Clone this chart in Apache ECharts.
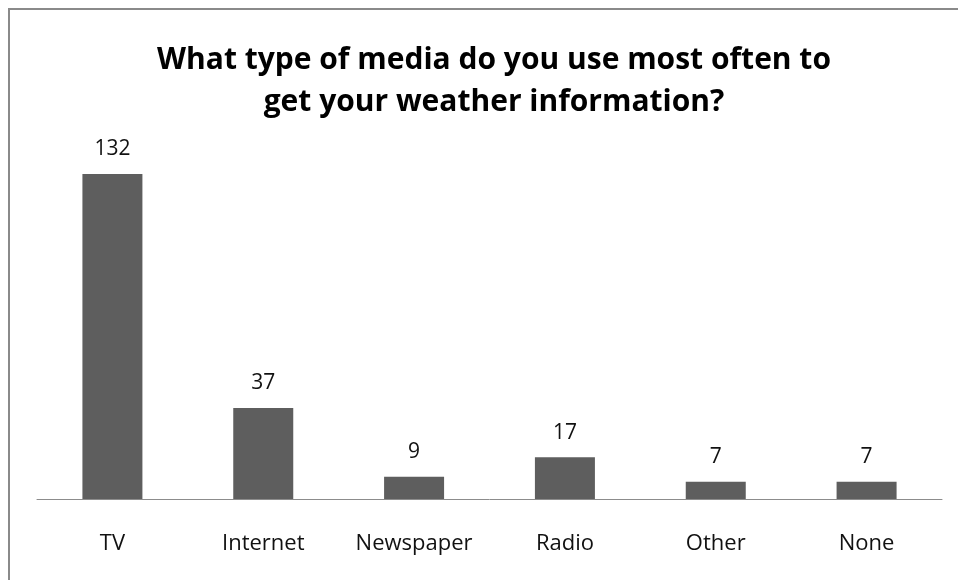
<!DOCTYPE html>
<html>
<head>
<meta charset="utf-8">
<script src="https://cdn.jsdelivr.net/npm/echarts@6/dist/echarts.min.js"></script>
<style>
  html, body { margin: 0; padding: 0; background: #fff; }
  #chart { width: 958px; height: 580px; }
</style>
</head>
<body>
<div id="chart"></div>
<script>
// Survey answers: preferred media for weather information
const categories = ['TV', 'Internet', 'Newspaper', 'Radio', 'Other', 'None'];
const responses = [132, 37, 9, 17, 7, 7];
const titleLines = ['What type of media do you use most often to', 'get your weather information?'];

const FONT = '"Open Sans", "Liberation Sans", sans-serif';

const chart = echarts.init(document.getElementById('chart'));
chart.setOption({
  animation: false,
  backgroundColor: '#ffffff',
  title: {
    text: titleLines.join('\n'),
    left: 489,
    top: 34,
    textAlign: 'center',
    textStyle: {
      fontFamily: FONT,
      fontWeight: 'bold',
      fontSize: 30,
      lineHeight: 42,
      color: '#000000'
    }
  },
  graphic: [{
    type: 'rect',
    shape: { x: 9, y: 9, width: 1100, height: 800 },
    style: { fill: 'none', stroke: '#8a8a8a', lineWidth: 2 },
    silent: true
  }],
  grid: { left: 37, right: 16, top: 154.3, bottom: 81, containLabel: false },
  xAxis: {
    type: 'category',
    data: categories,
    axisLine: { show: true, lineStyle: { color: '#8c8c8c', width: 1 } },
    axisTick: { show: false },
    axisLabel: {
      interval: 0,
      fontFamily: FONT,
      fontSize: 22,
      color: '#111111',
      margin: 34
    }
  },
  yAxis: {
    type: 'value',
    min: 0,
    max: 140,
    show: false,
    splitLine: { show: false }
  },
  series: [{
    type: 'bar',
    data: responses,
    barWidth: 60,
    itemStyle: { color: '#5e5e5e' },
    label: {
      show: true,
      position: 'top',
      distance: 14,
      fontFamily: FONT,
      fontSize: 21,
      color: '#111111'
    }
  }]
});
</script>
</body>
</html>
